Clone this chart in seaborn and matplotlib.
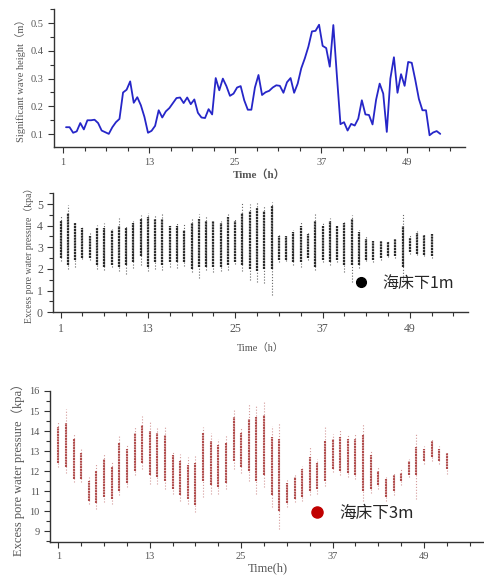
import numpy as np
import pandas as pd
import matplotlib
matplotlib.use("Agg")
import matplotlib.pyplot as plt
from matplotlib.lines import Line2D
from matplotlib.ticker import MultipleLocator
import seaborn as sns

# significant wave height, sampled every ~0.5 h
wave_height = [0.125, 0.125, 0.105, 0.11, 0.14, 0.117, 0.15, 0.15, 0.152, 0.14,
               0.113, 0.107, 0.101, 0.125, 0.143, 0.155, 0.25, 0.26, 0.29, 0.213,
               0.233, 0.204, 0.162, 0.105, 0.112, 0.13, 0.186, 0.16, 0.182, 0.194,
               0.212, 0.23, 0.232, 0.212, 0.232, 0.208, 0.225, 0.177, 0.16, 0.158,
               0.19, 0.171, 0.302, 0.258, 0.30, 0.273, 0.238, 0.246, 0.268, 0.273,
               0.222, 0.188, 0.188, 0.268, 0.313, 0.241, 0.251, 0.256, 0.268, 0.276,
               0.274, 0.249, 0.287, 0.302, 0.249, 0.282, 0.337, 0.373, 0.415, 0.47,
               0.472, 0.494, 0.418, 0.41, 0.343, 0.493, 0.31, 0.136, 0.143, 0.113,
               0.137, 0.131, 0.156, 0.222, 0.171, 0.169, 0.135, 0.224, 0.282, 0.246,
               0.108, 0.30, 0.377, 0.249, 0.316, 0.274, 0.36, 0.357, 0.295, 0.227,
               0.186, 0.186, 0.096, 0.106, 0.111, 0.101]
wave_time = np.linspace(1.4, 53.6, len(wave_height))

# hourly pore pressure columns (kpa): extremes and dense core
hours = list(range(1, 53))

p1_max = [4.5, 4.95, 4.15, 3.95, 3.65, 4.05, 4.1, 3.85, 4.35, 4.05, 4.2, 4.5, 4.6,
          4.5, 4.6, 4.05, 4.1, 4.1, 4.3, 4.55, 4.45, 4.2, 4.2, 4.55, 4.3, 5.05,
          5.0, 5.1, 4.95, 5.1, 3.6, 3.55, 3.8, 4.15, 3.7, 4.55, 4.15, 4.35, 4.0,
          4.15, 4.5, 3.8, 3.5, 3.35, 3.35, 3.3, 3.45, 4.6, 3.55, 3.75, 3.65, 3.7]
p1_hi = [4.2, 4.6, 4.1, 3.9, 3.5, 3.9, 3.9, 3.8, 4.0, 3.9, 4.1, 4.3, 4.4,
         4.3, 4.3, 4.0, 4.0, 3.8, 4.1, 4.3, 4.2, 4.2, 4.1, 4.4, 4.2, 4.6,
         4.7, 4.8, 4.7, 4.9, 3.5, 3.5, 3.7, 4.0, 3.6, 4.2, 4.0, 4.2, 4.0,
         4.1, 4.3, 3.7, 3.4, 3.3, 3.3, 3.25, 3.4, 4.0, 3.45, 3.65, 3.55, 3.6]
p1_lo = [2.5, 2.2, 2.4, 2.5, 2.5, 2.2, 2.1, 2.2, 2.1, 2.2, 2.3, 2.6, 2.1,
         2.3, 2.2, 2.3, 2.3, 2.3, 2.0, 2.1, 2.1, 2.1, 2.1, 2.2, 2.3, 2.2,
         2.0, 1.9, 2.0, 2.0, 2.4, 2.4, 2.3, 2.3, 2.5, 2.1, 2.4, 2.3, 2.4,
         2.2, 2.2, 2.2, 2.4, 2.4, 2.5, 2.6, 2.6, 2.1, 2.8, 2.7, 2.65, 2.6]
p1_min = [2.35, 2.0, 2.1, 2.45, 2.4, 2.0, 1.95, 2.1, 1.9, 1.75, 2.05, 2.2, 1.9,
          2.0, 1.95, 2.1, 2.05, 2.15, 1.85, 1.6, 1.95, 1.85, 1.9, 1.95, 2.25, 1.9,
          1.5, 1.4, 1.35, 0.8, 2.3, 2.35, 2.2, 2.1, 2.4, 1.95, 2.3, 2.2, 2.3,
          1.85, 1.4, 2.05, 2.35, 2.3, 2.4, 2.55, 2.5, 1.4, 2.7, 2.65, 2.6, 2.5]

p3_max = [14.5, 15.1, 13.85, 13.1, 11.7, 12.4, 12.9, 12.5, 13.8, 13.35, 14.2, 14.75,
          14.5, 14.2, 14.25, 13.0, 12.85, 12.7, 12.75, 14.2, 13.9, 13.6, 13.8, 15.1,
          14.2, 15.4, 15.25, 15.5, 14.25, 14.4, 11.6, 11.85, 12.25, 13.2, 12.6, 14.25,
          13.85, 14.05, 13.8, 13.9, 14.35, 13.0, 12.2, 11.7, 11.95, 12.1, 12.6, 13.9,
          13.25, 13.6, 13.25, 13.0]
p3_hi = [14.2, 14.4, 13.6, 12.9, 11.5, 12.0, 12.6, 12.2, 13.4, 13.1, 13.9, 14.3,
         14.0, 13.9, 13.8, 12.8, 12.5, 12.3, 12.4, 13.9, 13.5, 13.3, 13.4, 14.7,
         13.9, 14.6, 14.7, 14.8, 13.7, 13.6, 11.4, 11.7, 12.1, 12.7, 12.4, 13.5,
         13.6, 13.7, 13.6, 13.6, 13.8, 12.8, 12.0, 11.6, 11.8, 11.9, 12.5, 13.2,
         13.1, 13.5, 13.1, 12.9]
p3_lo = [12.4, 12.2, 11.6, 11.6, 10.5, 10.4, 10.7, 10.6, 11.0, 11.4, 12.0, 12.4,
         11.8, 11.7, 11.5, 11.1, 10.8, 10.6, 10.3, 11.5, 11.3, 11.2, 11.4, 12.5,
         12.2, 12.0, 11.5, 11.8, 10.8, 10.0, 10.4, 10.6, 10.7, 11.0, 11.1, 11.5,
         12.1, 12.0, 11.9, 11.8, 11.0, 11.1, 11.3, 10.7, 11.0, 11.5, 11.8, 11.8,
         12.5, 12.7, 12.5, 12.1]
p3_min = [12.2, 11.9, 11.45, 11.45, 10.35, 10.1, 10.45, 10.35, 10.8, 11.2, 11.8, 12.1,
          11.35, 11.35, 11.1, 10.85, 10.5, 10.35, 9.95, 10.7, 10.85, 10.85, 11.1, 12.1,
          11.9, 11.5, 10.85, 11.2, 10.2, 9.1, 10.2, 10.45, 10.5, 10.8, 10.85, 11.25,
          11.95, 11.8, 11.7, 11.6, 10.5, 10.9, 11.1, 10.5, 10.8, 11.3, 11.7, 10.6,
          12.35, 12.5, 12.35, 11.85]

hour_ticks = [1, 13, 25, 37, 49]

sns.set_theme(style="ticks")
plt.rcParams['font.family'] = ['Liberation Serif', 'Noto Sans CJK SC', 'DejaVu Sans']
plt.rcParams['axes.edgecolor'] = '#333333'
plt.rcParams['xtick.color'] = '#333333'
plt.rcParams['ytick.color'] = '#333333'
plt.rcParams['axes.linewidth'] = 1.0

fig = plt.figure(figsize=(4.85, 5.75), dpi=100)
ax1 = fig.add_axes([0.111, 0.744, 0.847, 0.240])
ax2 = fig.add_axes([0.110, 0.457, 0.855, 0.207])
ax3 = fig.add_axes([0.103, 0.058, 0.897, 0.262])

label_col = '#555555'


def style_axis(ax, xlim, fs):
    sns.despine(ax=ax)
    ax.set_xlim(*xlim)
    ax.set_xticks(hour_ticks)
    ax.set_xticks(np.arange(1, 57, 3), minor=True)
    ax.tick_params(axis='both', which='major', length=4, width=0.8,
                   labelsize=fs, labelcolor=label_col, direction='out')
    ax.tick_params(axis='both', which='minor', length=3, width=0.8, direction='out')
    ax.grid(False)


# top panel: wave height
wave_df = pd.DataFrame({'time': wave_time, 'height': wave_height})
sns.lineplot(data=wave_df, x='time', y='height', ax=ax1, color='#2626c8', lw=1.3)
style_axis(ax1, (-0.3, 57), 7.5)
ax1.set_ylim(0.053, 0.55)
ax1.set_yticks([0.1, 0.2, 0.3, 0.4, 0.5])
ax1.yaxis.set_minor_locator(MultipleLocator(0.05))
ax1.set_xlabel('Time（h）', fontsize=8, color=label_col, fontweight='bold', labelpad=2)
ax1.set_ylabel('Significant wave height（m）', fontsize=7.5, color=label_col, labelpad=3)


def draw_columns(ax, vmax, vhi, vlo, vmin, core, tail, lw):
    ax.vlines(hours, vmin, vmax, colors=tail, lw=0.8, linestyles=(0, (1, 1.6)))
    ax.vlines(hours, vlo, vhi, colors=core, lw=lw, linestyles=(0, (1.0, 0.3)))


# middle panel: 1 m below seabed
draw_columns(ax2, p1_max, p1_hi, p1_lo, p1_min, '#2a2a2a', '#666666', 1.6)
style_axis(ax2, (0, 57), 8.5)
ax2.set_ylim(0, 5.5)
ax2.set_yticks([0, 1, 2, 3, 4, 5])
ax2.yaxis.set_minor_locator(MultipleLocator(0.5))
ax2.set_xlabel('Time（h）', fontsize=7.5, color=label_col, labelpad=6)
ax2.set_ylabel('Excess pore water pressure（kpa）', fontsize=7, color=label_col, labelpad=2)
h1 = Line2D([], [], ls='none', marker='o', ms=7, color='black')
ax2.legend([h1], ['海床下1m'], loc='lower right', bbox_to_anchor=(1.0, 0.05),
           frameon=False, handletextpad=0.3, prop={'family': 'Noto Sans CJK SC', 'size': 11.5})

# bottom panel: 3 m below seabed
draw_columns(ax3, p3_max, p3_hi, p3_lo, p3_min, '#b04c4c', '#d49a9a', 1.5)
style_axis(ax3, (-0.1, 57), 7.5)
ax3.set_ylim(8.48, 16)
ax3.set_yticks(list(range(9, 17)))
ax3.yaxis.set_minor_locator(MultipleLocator(0.5))
ax3.set_xlabel('Time(h)', fontsize=9, color=label_col, labelpad=1)
ax3.set_ylabel('Excess pore water pressure（kpa）', fontsize=9, color=label_col, labelpad=3)
h3 = Line2D([], [], ls='none', marker='o', ms=8, color='#c00000')
ax3.legend([h3], ['海床下3m'], loc='lower right', bbox_to_anchor=(0.87, 0.03),
           frameon=False, handletextpad=0.3, prop={'family': 'Noto Sans CJK SC', 'size': 12})

fig.savefig('out.png', dpi=100)
